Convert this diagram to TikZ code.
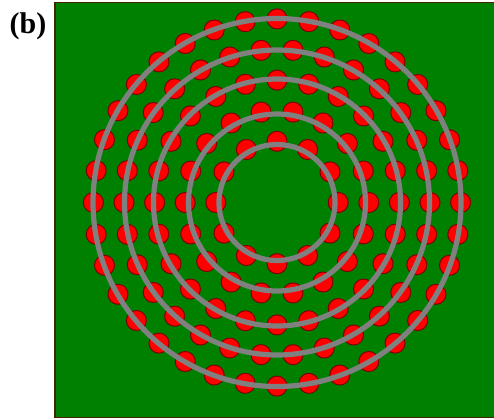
\documentclass[tikz,border=0pt]{standalone}
\usepackage{fontspec}
\setmainfont{Liberation Serif}
\usepackage{xcolor}
\usepackage{tikz}
\usetikzlibrary{positioning}

\definecolor{panelgreen}{RGB}{0,128,0}
\definecolor{paneledge}{RGB}{70,35,0}
\definecolor{atomred}{RGB}{255,0,0}
\definecolor{atomedge}{RGB}{125,0,0}
\definecolor{ringgray}{RGB}{128,128,128}

\tikzset{
  atom/.style={fill=atomred, draw=atomedge, line width=0.5pt},
  shell/.style={draw=ringgray, line width=2.6pt},
}

\begin{document}
\begin{tikzpicture}[x=0.5pt, y=-0.5pt]
        \useasboundingbox (0,0) rectangle (494,419);
        \node[font=\bfseries\fontsize{15}{17}\selectfont, anchor=base] (tag) at (28,33) {(b)};

        % Green panel
        \fill[panelgreen] (55,2.5) rectangle (494,417.5);
        \draw[paneledge, line width=0.8pt] (494,2.5) -- (55,2.5) -- (55,417.5) -- (494,417.5);
        \coordinate (centre) at (277,202.5);

        % Red dots, 6(k+1) on shell k
        \foreach \k in {1,...,5} {
          \pgfmathtruncatemacro{\n}{6*(\k+1)}
          \foreach \j in {1,...,\n} {
            \fill[atom] (centre) ++({360*\j/\n}:{30.6*(\k+1)}) circle (10);
          }
        }

        % Grey rings on top
        \foreach \r in {58,88.5,123.5,152.5,184} {
          \draw[shell] (centre) circle (\r);
        }
      \end{tikzpicture}
\end{document}
